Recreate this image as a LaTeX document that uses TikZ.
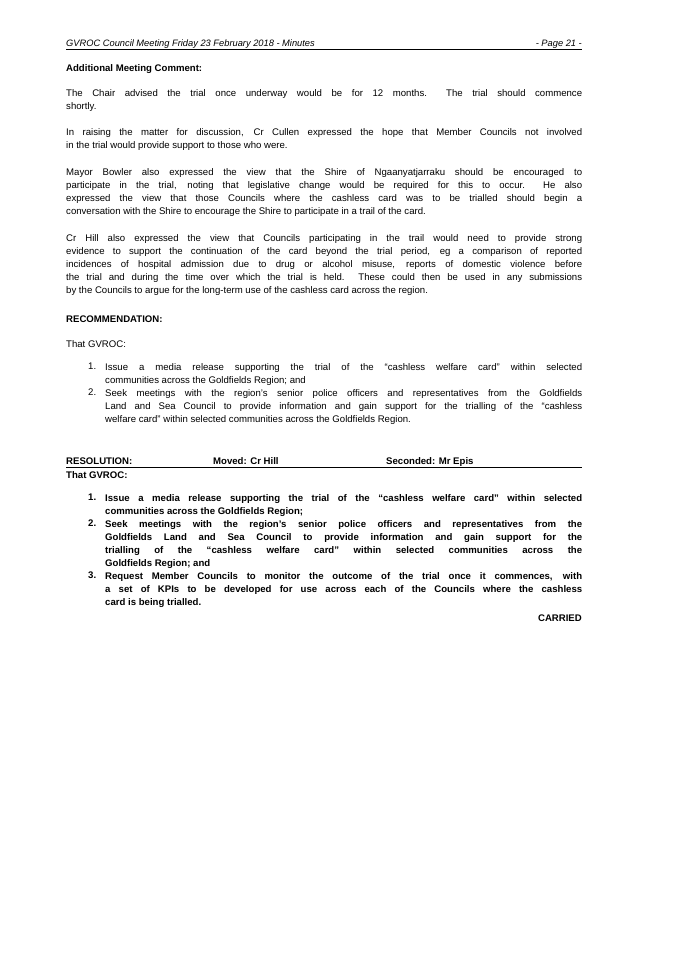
\documentclass[tikz,border=0pt]{standalone}
\usepackage{fontspec}
\setmainfont{Liberation Sans}
\begin{document}
\begin{tikzpicture}[x=1pt,y=-1pt,
  body/.style={anchor=north west,inner sep=0pt,text width=#1pt,align=justify,font=\fontsize{9.6}{13.1}\selectfont},
  body/.default=516,
  num/.style={anchor=north west,inner sep=0pt,font=\fontsize{9.6}{13.1}\selectfont},
  bodyb/.style={anchor=north west,inner sep=0pt,text width=477pt,align=justify,font=\fontsize{9.6}{13.1}\selectfont\bfseries},
  numb/.style={anchor=north west,inner sep=0pt,font=\fontsize{9.6}{13.1}\selectfont\bfseries},
  rule/.style={line width=0.6pt}]
\useasboundingbox (0,0) rectangle (675,955);
\node[anchor=base west,inner sep=0pt,font=\fontsize{9.3}{11}\selectfont\itshape] (hdr) at (66,47) {GVROC Council Meeting Friday 23 February 2018 - Minutes};
\node[anchor=base east,inner sep=0pt,font=\fontsize{9.3}{11}\selectfont\itshape] (pg) at (582,47) {- Page 21 -};
\coordinate (h1) at (66,49); \coordinate (h2) at (582,49);
\draw[rule] (h1) -- (h2);
\node[anchor=base west,inner sep=0pt,font=\fontsize{9.6}{12}\selectfont\bfseries] (t1) at (66,72) {Additional Meeting Comment:};
\node[body] (p1) at (66,89) {The Chair advised the trial once underway would be for 12 months.\ \ The trial should commence\linebreak shortly.};
\node[body] (p2) at (66,128) {In raising the matter for discussion, Cr Cullen expressed the hope that Member Councils not involved\linebreak in the trial would provide support to those who were.};
\node[body] (p3) at (66,168) {Mayor Bowler also expressed the view that the Shire of Ngaanyatjarraku should be encouraged to\linebreak participate in the trial, noting that legislative change would be required for this to occur.\ \ He also\linebreak expressed the view that those Councils where the cashless card was to be trialled should begin a\linebreak conversation with the Shire to encourage the Shire to participate in a trail of the card.};
\node[body] (p4) at (66,234) {Cr Hill also expressed the view that Councils participating in the trail would need to provide strong\linebreak evidence to support the continuation of the card beyond the trial period, eg a comparison of reported\linebreak incidences of hospital admission due to drug or alcohol misuse, reports of domestic violence before\linebreak the trial and during the time over which the trial is held.\ \ These could then be used in any submissions\linebreak by the Councils to argue for the long-term use of the cashless card across the region.};
\node[anchor=base west,inner sep=0pt,font=\fontsize{9.6}{12}\selectfont\bfseries] (rec) at (66,322) {RECOMMENDATION:};
\node[anchor=base west,inner sep=0pt,font=\fontsize{9.6}{12}\selectfont] (tg1) at (66,347) {That GVROC:};
\node[num] (n1) at (88,363) {1.};
\node[body=477] (l1) at (105,363) {Issue a media release supporting the trial of the ``cashless welfare card'' within selected\linebreak communities across the Goldfields Region; and};
\node[num] (n2) at (88,389) {2.};
\node[body=477] (l2) at (105,389) {Seek meetings with the region's senior police officers and representatives from the Goldfields\linebreak Land and Sea Council to provide information and gain support for the trialling of the ``cashless\linebreak welfare card'' within selected communities across the Goldfields Region.};
\node[anchor=base west,inner sep=0pt,font=\fontsize{9.6}{12}\selectfont\bfseries] (res) at (66,464) {RESOLUTION:};
\node[anchor=base west,inner sep=0pt,font=\fontsize{9.6}{12}\selectfont\bfseries] (mv) at (213,464) {Moved: Cr Hill};
\node[anchor=base west,inner sep=0pt,font=\fontsize{9.6}{12}\selectfont\bfseries] (sc) at (386,464) {Seconded: Mr Epis};
\coordinate (r1) at (66,467); \coordinate (r2) at (582,467);
\draw[rule] (r1) -- (r2);
\node[anchor=base west,inner sep=0pt,font=\fontsize{9.6}{12}\selectfont\bfseries] (tg2) at (66,478) {That GVROC:};
\node[numb] (b1) at (88,494) {1.};
\node[bodyb] (k1) at (105,494) {Issue a media release supporting the trial of the ``cashless welfare card'' within selected\linebreak communities across the Goldfields Region;};
\node[numb] (b2) at (88,520) {2.};
\node[bodyb] (k2) at (105,520) {Seek meetings with the region's senior police officers and representatives from the\linebreak Goldfields Land and Sea Council to provide information and gain support for the\linebreak trialling of the ``cashless welfare card'' within selected communities across the\linebreak Goldfields Region; and};
\node[numb] (b3) at (88,572) {3.};
\node[bodyb] (k3) at (105,572) {Request Member Councils to monitor the outcome of the trial once it commences, with\linebreak a set of KPIs to be developed for use across each of the Councils where the cashless\linebreak card is being trialled.};
\node[anchor=base east,inner sep=0pt,font=\fontsize{9.6}{12}\selectfont\bfseries] (car) at (582,621) {CARRIED};
\end{tikzpicture}
\end{document}
